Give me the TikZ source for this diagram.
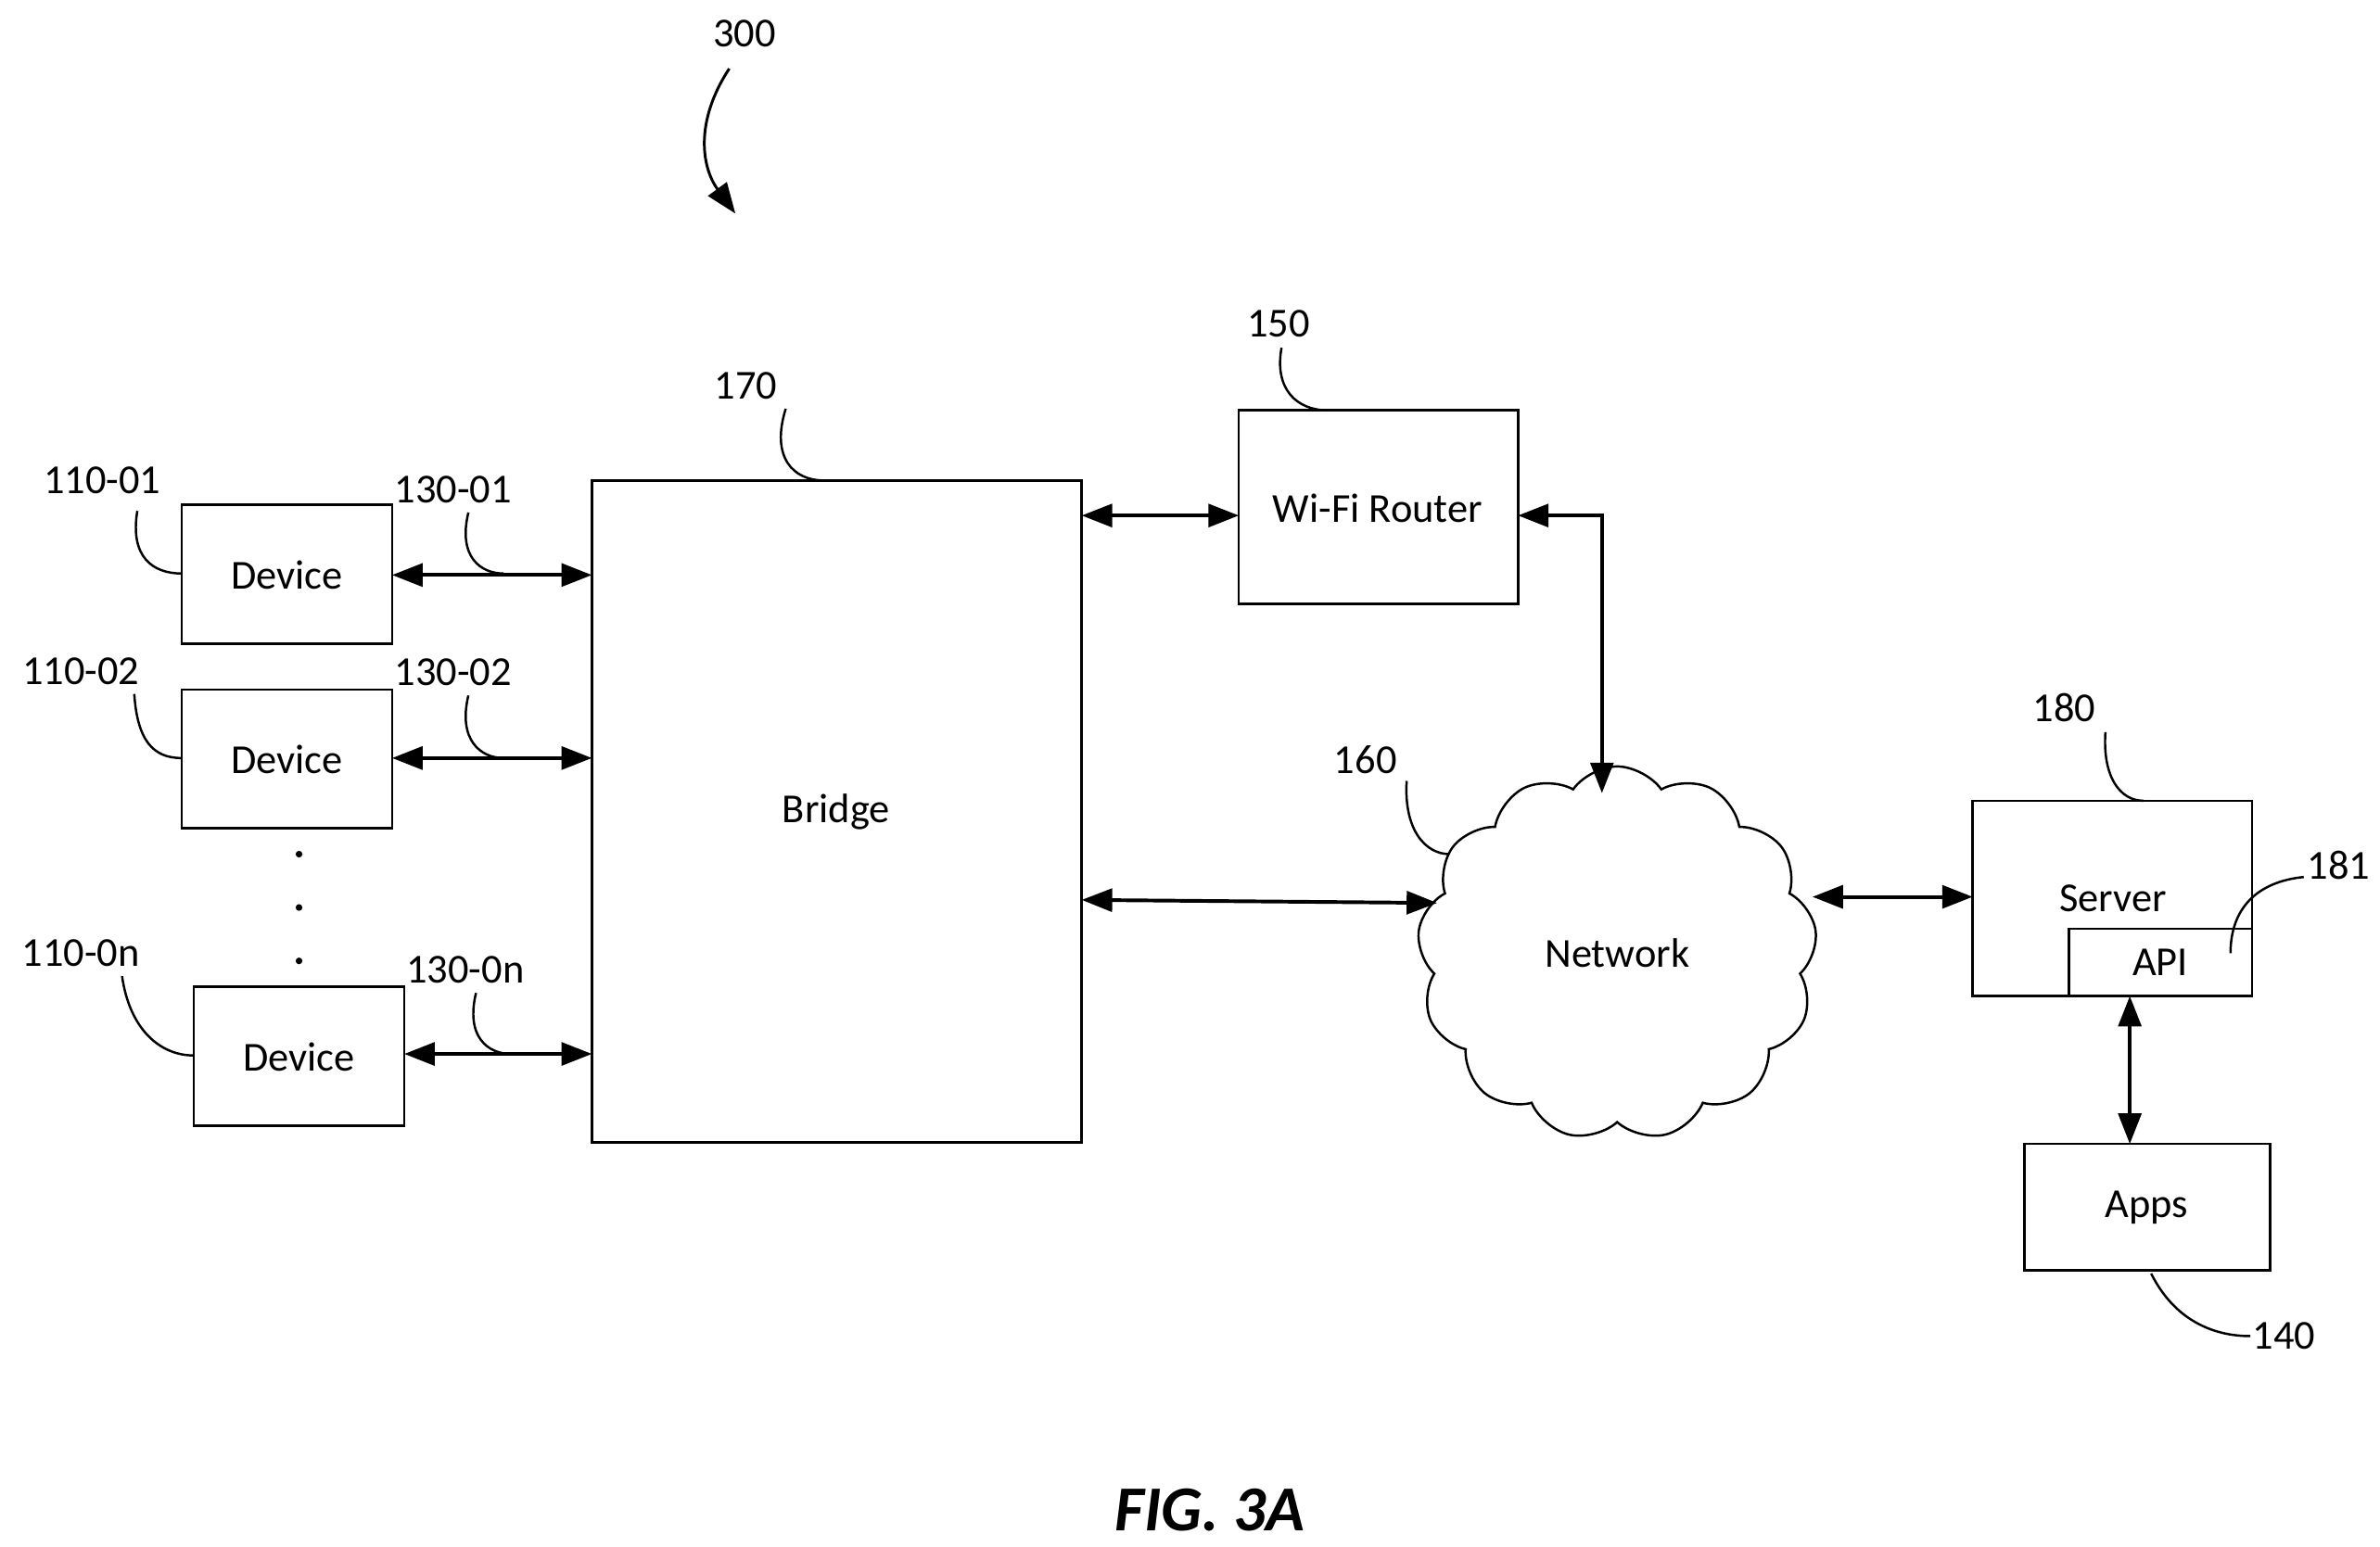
\documentclass[tikz,border=0pt]{standalone}
\usepackage{fontspec}
\setmainfont{Carlito}
\usetikzlibrary{shapes.symbols,arrows.meta}
\begin{document}
\begin{tikzpicture}[x=1pt,y=-1pt,
  box/.style={draw,line width=1.5pt,inner sep=0},
  lbl/.style={font=\fontsize{27}{30}\selectfont},
  arr/.style={line width=2.4pt,{Triangle[length=20pt,width=15pt]}-{Triangle[length=20pt,width=15pt]}},
  lead/.style={line width=1.5pt}]
\useasboundingbox (0,0) rectangle (1560,1014);
\node[lbl] (n300) at (488,22) {300};
\coordinate (a300) at (482,140);
\draw[line width=1.8pt,-{Triangle[length=20pt,width=15pt]}] (478,45) .. controls (455,80) and (460,110) .. (a300);
% devices
\draw[box] (119,331) rectangle (257,422); \node[lbl] (d1) at (188,377) {Device};
\draw[box] (119,452) rectangle (257,543); \node[lbl] (d2) at (188,498) {Device};
\draw[box] (127,647) rectangle (265,738); \node[lbl] (d3) at (196,693) {Device};
\foreach \y in {560,595,630} \fill (196,\y) circle (2.2pt);
\node[lbl] (l1) at (67,315) {110-01};
\node[lbl] (l2) at (53,440) {110-02};
\node[lbl] (l3) at (53,625) {110-0n};
\draw[lead] (90,335) .. controls (85,365) and (100,376) .. (119,376);
\draw[lead] (88,455) .. controls (90,485) and (100,497) .. (119,497);
\draw[lead] (80,640) .. controls (85,675) and (105,692) .. (127,692);
\node[lbl] (c1) at (297,321) {130-01};
\node[lbl] (c2) at (297,441) {130-02};
\node[lbl] (c3) at (305,636) {130-0n};
\draw[lead] (307,336) .. controls (300,365) and (315,376) .. (330,376);
\draw[lead] (307,456) .. controls (300,485) and (315,497) .. (330,497);
\draw[lead] (312,651) .. controls (305,680) and (320,691) .. (335,691);
% bridge
\draw[box] (388,315) rectangle (709,749); \node[lbl] (br) at (548,532) {Bridge};
\draw[arr] (257,377) -- (388,377);
\draw[arr] (257,497) -- (388,497);
\draw[arr] (265,691) -- (388,691);
\node[lbl] (n170) at (489,253) {170};
\draw[lead] (515,268) .. controls (505,300) and (520,315) .. (540,315);
% router
\draw[box] (812,269) rectangle (995,396); \node[lbl] (rt) at (903,333) {Wi-Fi Router};
\node[lbl] (n150) at (838,212) {150};
\draw[lead] (840,228) .. controls (835,255) and (850,269) .. (870,269);
\draw[arr] (709,338) -- (812,338);
\draw[arr] (995,338) -- (1050,338) -- (1050,520);
% cloud
\node[cloud,draw,line width=1.5pt,cloud puffs=13,cloud puff arc=110,minimum width=262pt,minimum height=245pt,lbl] (net) at (1060,625) {Network};
\node[lbl] (n160) at (895,498) {160};
\draw[lead] (922,512) .. controls (920,545) and (935,560) .. (950,560);
\draw[arr] (709,590) -- (942,592);
% server
\draw[box] (1293,525) rectangle (1476,653); \node[lbl] (sv) at (1385,589) {Server};
\draw[box] (1356,609) rectangle (1476,653); \node[lbl] (api) at (1416,631) {API};
\node[lbl] (n180) at (1353,464) {180};
\node[lbl] (n181) at (1533,567) {181};
\draw[lead] (1380,480) .. controls (1378,510) and (1390,525) .. (1405,525);
\draw[lead] (1510,575) .. controls (1480,578) and (1462,595) .. (1462,625);
\draw[arr] (1188,588) -- (1293,588);
% apps
\draw[box] (1327,750) rectangle (1488,833); \node[lbl] (ap) at (1407,792) {Apps};
\draw[arr] (1396,653) -- (1396,750);
\node[lbl] (n140) at (1497,876) {140};
\draw[lead] (1410,835) .. controls (1425,865) and (1450,876) .. (1475,876);
\node[font=\fontsize{42}{48}\selectfont\bfseries\itshape] (fig) at (793,990) {FIG. 3A};
\end{tikzpicture}
\end{document}
